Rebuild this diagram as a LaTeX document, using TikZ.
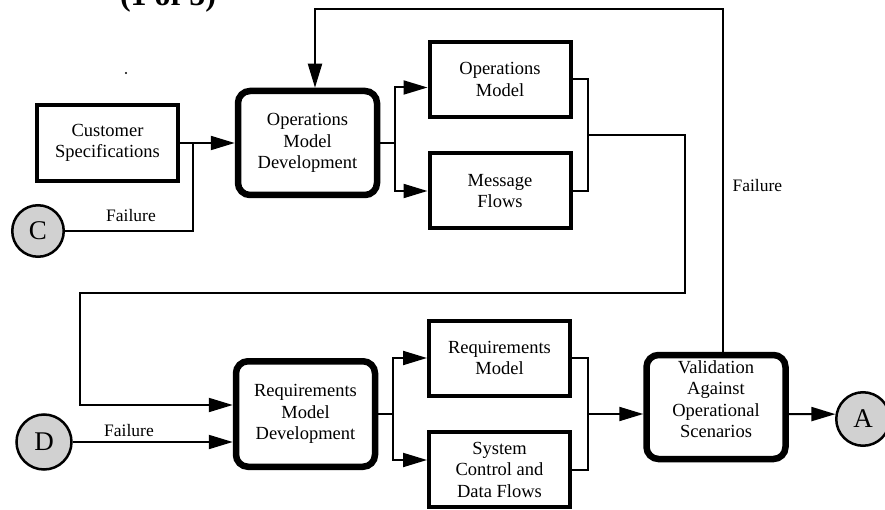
\documentclass[tikz,border=0pt]{standalone}
\usepackage{fontspec}
\setmainfont{Liberation Serif}
\usetikzlibrary{arrows.meta}
\begin{document}
\begin{tikzpicture}[x=1pt,y=-1pt,
  txt/.style={font=\fontsize{18.5}{21.5}\selectfont, align=center},
  plainbox/.style={txt, draw, line width=4pt, minimum width=141pt, minimum height=75pt, inner sep=0pt},
  devbox/.style={txt, draw, line width=6.5pt, rounded corners=12pt, minimum width=139pt, minimum height=104pt, inner sep=0pt},
  link/.style={line width=2pt},
  flow/.style={link, -{Triangle[length=24pt,width=14pt]}},
  connector/.style={draw, circle, line width=2.5pt, fill=black!18, inner sep=0pt, font=\fontsize{27}{27}\selectfont},
  note/.style={font=\fontsize{17.5}{17.5}\selectfont}
]
\useasboundingbox (0,0) rectangle (885,510);

% sheet heading
\node[font=\bfseries\fontsize{32}{32}\selectfont, anchor=base] (title) at (168,5.5) {(1 of 5)};
\fill (126,73) circle (1.2pt);

% process boxes
\node[plainbox, minimum height=76pt] (cs) at (107.5,143) {Customer\\Specifications};
\node[devbox] (omd) at (307.5,143) {Operations\\Model\\Development};
\node[plainbox] (om) at (500,79.5) {Operations\\Model};
\node[plainbox] (mf) at (500,191) {Message\\Flows};
\node[devbox, minimum height=105.5pt] (rmd) at (305.5,414) {Requirements\\Model\\Development};
\node[plainbox] (rm) at (499.5,358) {Requirements\\Model};
\node[plainbox] (scdf) at (499.5,469.5) {System\\Control and\\Data Flows};
\node[devbox] (val) at (716,407) {Validation\\Against\\Operational\\Scenarios\\[-6pt]};

% off-page connectors
\node[connector, minimum size=51.5pt] (c) at (38,231) {C};
\node[connector, minimum size=55pt] (d) at (44,442) {D};
\node[connector, minimum size=53.5pt] (a) at (863,419) {A};

% customer specifications and failure return C into operations model development
\coordinate (cjoin) at (193,143);
\draw[flow] (cs.east) -- (omd.west);
\draw[link] (c.east) -| (cjoin);
\node[note] (cfail) at (131,216) {Failure};

% validation failure loops back to the top
\coordinate (fbrow) at (0,9);
\coordinate (valtop) at ([xshift=7pt]val.north);
\coordinate (omdtop) at ([xshift=7.5pt]omd.north);
\draw[flow] (valtop) -- (valtop |- fbrow) -| (omdtop);
\node[note, anchor=west] (vfail) at (729,186) {Failure};

% operations model development outputs
\coordinate (ofork) at (395,143);
\draw[link] (omd.east) -- (ofork);
\draw[flow] (ofork) |- ([yshift=-8pt]om.west);
\draw[flow] (ofork) |- (mf.west);

% operations outputs feed requirements model development
\coordinate (omerge) at (588,135);
\coordinate (ubend) at (685,293);
\coordinate (lbend) at (80,293);
\draw[link] (om.east) -| (omerge);
\draw[link] (mf.east) -| (omerge);
\draw[flow] (omerge) -| (ubend) -- (lbend) |- ([yshift=9pt]rmd.west);

% failure return D
\draw[flow] (d.east) -- (d.east -| rmd.west);
\node[note] (dfail) at (129,431) {Failure};

% requirements model development outputs
\coordinate (rfork) at (393,414);
\draw[link] (rmd.east) -- (rfork);
\draw[flow] (rfork) |- (rm.west);
\draw[flow] (rfork) |- ([yshift=9.5pt]scdf.west);

% requirements outputs go to validation
\coordinate (rmerge) at (588,414);
\draw[link] (rm.east) -| (rmerge);
\draw[link] (scdf.east) -| (rmerge);
\draw[flow] (rmerge) -- (rmerge -| val.west);

% validation passes to A
\draw[flow] ([yshift=-7pt]val.east) -- (a.170);
\end{tikzpicture}
\end{document}
